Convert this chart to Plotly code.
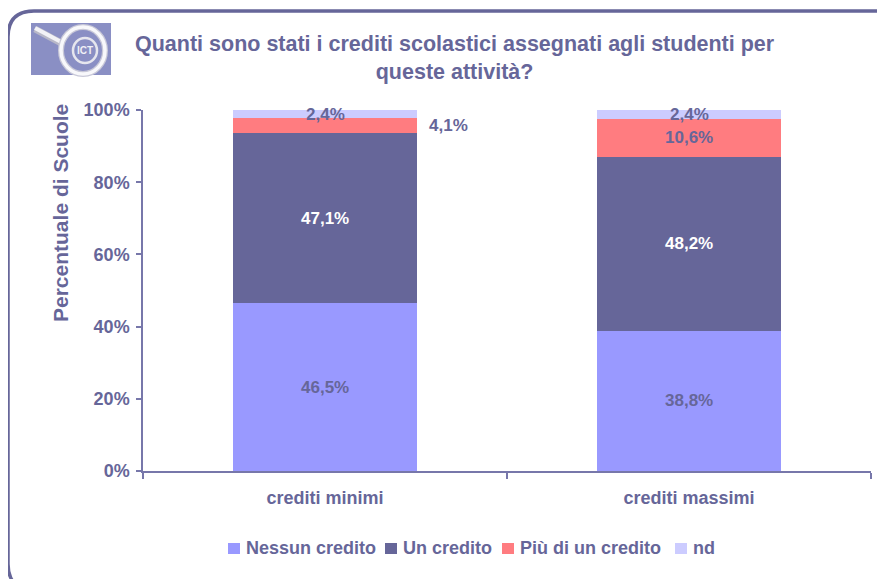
import plotly.graph_objects as go

categories = ["crediti minimi", "crediti massimi"]
series_names = ["Nessun credito", "Un credito", "Più di un credito", "nd"]
nessun_credito = [46.5, 38.8]
un_credito = [47.1, 48.2]
piu_di_un_credito = [4.1, 10.6]
nd = [2.4, 2.4]
y_tick_vals = [0, 20, 40, 60, 80, 100]
y_tick_text = ["0%", "20%", "40%", "60%", "80%", "100%"]
title_text = "Quanti sono stati i crediti scolastici assegnati agli studenti per<br>queste attività?"
y_title = "Percentuale di Scuole"

series_values = [nessun_credito, un_credito, piu_di_un_credito, nd]
colors = ["#9999FF", "#666699", "#FF7C80", "#CCCCFF"]
label_colors = ["#666699", "#FFFFFF", "#666699", "#666699"]
TXT = "#666699"
FONT = "Liberation Sans, Arial, sans-serif"

# page body has an 8px margin; plot area on screen: x 143..871, y 110..471
OFF = 8
W, H = 885, 579
SX0, SX1, SY0, SY1 = 143, 871, 110, 471
L, T = SX0 - OFF, SY0 - OFF
R, B = W - (SX1 - OFF), H - (SY1 - OFF)
PW, PH = SX1 - SX0, SY1 - SY0


def px(x):
    return (x - SX0) / PW


def py(y):
    return (SY1 - y) / PH


xs = list(range(len(categories)))
BAR_W = 0.505

fig = go.Figure()
for name, vals, col in zip(series_names, series_values, colors):
    fig.add_trace(go.Bar(
        x=xs, y=vals, name=name, marker=dict(color=col, line=dict(width=0)),
        width=BAR_W, hoverinfo="skip", showlegend=False,
    ))

annotations = []
shapes = []

# data labels
for i in xs:
    cum = 0.0
    for s, vals in enumerate(series_values):
        v = vals[i]
        txt = f"{v:.1f}".replace(".", ",") + "%"
        mid = min(cum + v / 2, 100 - 1.2) if s == len(series_values) - 1 else cum + v / 2
        if s == 2 and v < 5:
            annotations.append(dict(
                x=i + BAR_W / 2, y=mid, xref="x", yref="y", text=txt, showarrow=False,
                xanchor="left", yanchor="middle", xshift=10,
                font=dict(family=FONT, size=17, color=TXT, weight="bold")))
        else:
            annotations.append(dict(
                x=i, y=mid, xref="x", yref="y", text=txt, showarrow=False,
                xanchor="center", yanchor="middle",
                font=dict(family=FONT, size=17, color=label_colors[s], weight="bold")))
        cum += v

# title
annotations.append(dict(
    x=px(455), y=py(58), xref="paper", yref="paper", text=title_text, showarrow=False,
    xanchor="center", yanchor="middle",
    font=dict(family=FONT, size=21.5, color=TXT, weight="bold")))
# y axis title
annotations.append(dict(
    x=px(60), y=py(213), xref="paper", yref="paper", text=y_title, showarrow=False,
    textangle=-90, xanchor="center", yanchor="middle",
    font=dict(family=FONT, size=21, color=TXT, weight="bold")))

# legend (drawn manually to match the compact spacing)
legend_x = [228, 385, 502, 675]
for name, col, lx in zip(series_names, colors, legend_x):
    shapes.append(dict(type="rect", xref="paper", yref="paper",
                       x0=px(lx), x1=px(lx + 12), y0=py(554), y1=py(543),
                       fillcolor=col, line=dict(width=0)))
    annotations.append(dict(x=px(lx + 16), y=py(548), xref="paper", yref="paper", text=name,
                            showarrow=False, xanchor="left", yanchor="middle",
                            font=dict(family=FONT, size=18, color=TXT, weight="bold")))

# frame with rounded corners
fx0, fy0, fx1, fy1, r = 8, 11, 884, 590, 26
path = (f"M {px(fx0)},{py(fy1 - r)} L {px(fx0)},{py(fy0 + r)} "
        f"Q {px(fx0)},{py(fy0)} {px(fx0 + r)},{py(fy0)} "
        f"L {px(fx1 - 3)},{py(fy0)} Q {px(fx1)},{py(fy0)} {px(fx1)},{py(fy0 + 3)} "
        f"M {px(fx0)},{py(fy1 - r)} Q {px(fx0)},{py(fy1 - 10)} {px(fx0 + 12)},{py(fy1)}")
shapes.append(dict(type="path", xref="paper", yref="paper", path=path,
                   line=dict(color="#666699", width=3.5), layer="above"))

# logo
shapes.append(dict(type="rect", xref="paper", yref="paper", x0=px(31), x1=px(111), y0=py(75), y1=py(23),
                   fillcolor="#8A8FC4", line=dict(width=0), layer="above"))
shapes.append(dict(type="line", xref="paper", yref="paper", x0=px(35), y0=py(29), x1=px(63), y1=py(44),
                   line=dict(color="#B8B8C8", width=7), layer="above"))
shapes.append(dict(type="line", xref="paper", yref="paper", x0=px(35), y0=py(28), x1=px(63), y1=py(43),
                   line=dict(color="#F2F2F6", width=4), layer="above"))
shapes.append(dict(type="circle", xref="paper", yref="paper", x0=px(61), x1=px(105), y0=py(74), y1=py(27),
                   line=dict(color="#C8C8D8", width=6), layer="above"))
shapes.append(dict(type="circle", xref="paper", yref="paper", x0=px(61), x1=px(105), y0=py(74), y1=py(27),
                   line=dict(color="#F8F8FB", width=3.5), layer="above"))
shapes.append(dict(type="circle", xref="paper", yref="paper", x0=px(73), x1=px(97), y0=py(63), y1=py(38),
                   line=dict(color="#E6E6EE", width=2.5), layer="above"))
annotations.append(dict(x=px(85), y=py(50.5), xref="paper", yref="paper", text="ICT", showarrow=False,
                        xanchor="center", yanchor="middle",
                        font=dict(family=FONT, size=10, color="#F0F0F6", weight="bold")))

fig.update_layout(
    width=W, height=H,
    margin=dict(l=L, r=R, t=T, b=B, autoexpand=False),
    paper_bgcolor="white", plot_bgcolor="white",
    barmode="stack",
    showlegend=False,
    annotations=annotations,
    shapes=shapes,
    font=dict(family=FONT, color=TXT),
)
fig.update_xaxes(
    range=[-0.5, 1.5], tickvals=xs, ticktext=categories, ticks="",
    showline=True, linecolor="#7777AA", linewidth=1.5, showgrid=False, zeroline=False,
    tickfont=dict(family=FONT, size=18, color=TXT, weight="bold"),
    ticklabelstandoff=10,
    minor=dict(tickvals=[-0.5, 0.5, 1.5], ticks="outside", ticklen=6, tickcolor="#7777AA", tickwidth=1.5),
)
fig.update_yaxes(
    range=[0, 100], tickvals=y_tick_vals, ticktext=y_tick_text, ticks="outside", ticklen=5,
    tickcolor="#7777AA", tickwidth=1.5,
    showline=True, linecolor="#7777AA", linewidth=1.5, showgrid=False, zeroline=False,
    tickfont=dict(family=FONT, size=18, color=TXT, weight="bold"),
    ticklabelstandoff=3,
)

fig.write_html("out.html")
